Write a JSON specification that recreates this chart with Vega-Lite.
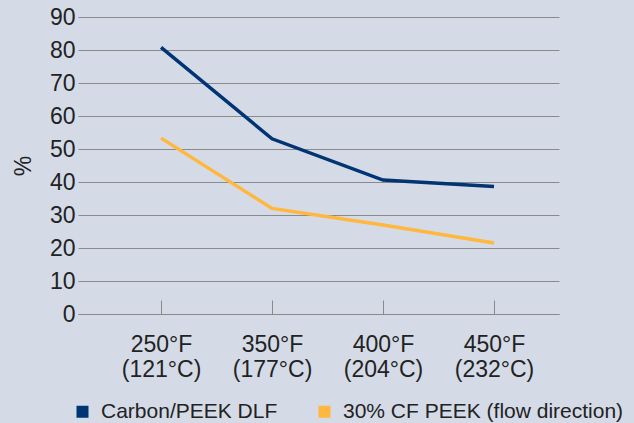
{
  "$schema": "https://vega.github.io/schema/vega-lite/v6.json",
  "width": 481,
  "height": 297,
  "autosize": {"type": "none"},
  "padding": {"left": 78, "top": 17, "right": 75, "bottom": 109},
  "background": "#d4dbe7",
  "config": {
    "view": {"stroke": null},
    "font": "Liberation Sans",
    "axis": {"labelFont": "Liberation Sans", "titleFont": "Liberation Sans"}
  },
  "data": {
    "values": [
      {"temp": "250°F (121°C)", "series": "Carbon/PEEK DLF", "value": 80.8},
      {"temp": "350°F (177°C)", "series": "Carbon/PEEK DLF", "value": 53.1},
      {"temp": "400°F (204°C)", "series": "Carbon/PEEK DLF", "value": 40.6},
      {"temp": "450°F (232°C)", "series": "Carbon/PEEK DLF", "value": 38.6},
      {"temp": "250°F (121°C)", "series": "30% CF PEEK (flow direction)", "value": 53.3},
      {"temp": "350°F (177°C)", "series": "30% CF PEEK (flow direction)", "value": 32.0},
      {"temp": "400°F (204°C)", "series": "30% CF PEEK (flow direction)", "value": 27.0},
      {"temp": "450°F (232°C)", "series": "30% CF PEEK (flow direction)", "value": 21.5}
    ]
  },
  "mark": {"type": "line", "strokeWidth": 3.5, "strokeJoin": "miter"},
  "encoding": {
    "x": {
      "field": "temp",
      "type": "ordinal",
      "sort": null,
      "scale": {"type": "point", "padding": 0.667, "align": 0.561},
      "axis": {
        "title": null,
        "labelAngle": 0,
        "labelExpr": "split(datum.label, ' ')",
        "labelFontSize": 23,
        "labelColor": "#222222",
        "labelLineHeight": 25,
        "labelPadding": 33,
        "tickSize": -14,
        "tickColor": "#8a8a8a",
        "tickWidth": 1,
        "domainColor": "#8a8a8a",
        "domainWidth": 1.2,
        "grid": false
      }
    },
    "y": {
      "field": "value",
      "type": "quantitative",
      "scale": {"domain": [0, 90], "nice": false},
      "axis": {
        "values": [0, 10, 20, 30, 40, 50, 60, 70, 80, 90],
        "title": "%",
        "titleFontSize": 23,
        "titleFontWeight": "normal",
        "titleColor": "#222222",
        "titlePadding": 14,
        "labelFontSize": 23,
        "labelColor": "#222222",
        "labelPadding": 3,
        "ticks": false,
        "domain": false,
        "grid": true,
        "gridColor": "#8a8a8a",
        "gridWidth": 1.2
      }
    },
    "color": {
      "field": "series",
      "type": "nominal",
      "scale": {
        "domain": ["Carbon/PEEK DLF", "30% CF PEEK (flow direction)"],
        "range": ["#003473", "#ffb73d"]
      },
      "legend": {
        "title": null,
        "orient": "none",
        "legendX": -6,
        "legendY": 384,
        "padding": 0,
        "direction": "horizontal",
        "symbolType": "square",
        "symbolSize": 144,
        "symbolStrokeWidth": 0,
        "symbolFillOpacity": 1,
        "labelFontSize": 21,
        "labelColor": "#222222",
        "labelOffset": 8,
        "labelLimit": 0,
        "columnPadding": 36,
        "encode": {
          "symbols": {"update": {"fill": {"scale": "color", "field": "value"}, "strokeWidth": {"value": 0}}}
        }
      }
    }
  }
}
